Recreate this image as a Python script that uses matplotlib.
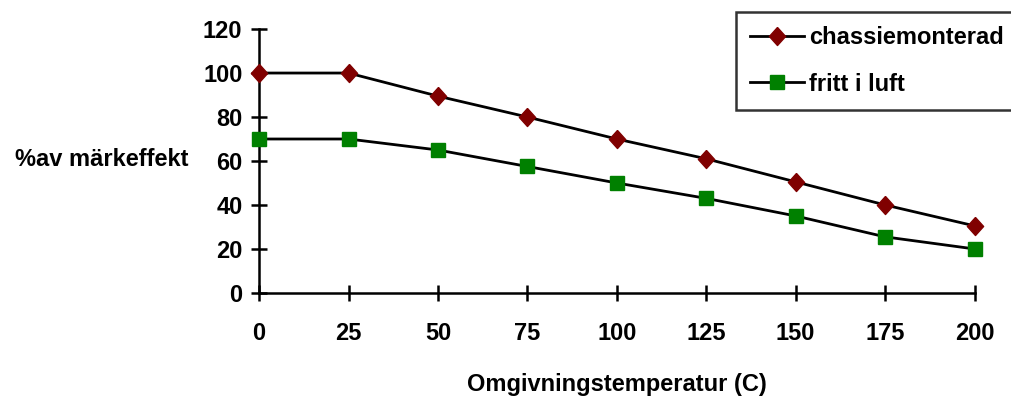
import matplotlib.pyplot as plt

plt.rcParams['font.family'] = ['Liberation Sans', 'DejaVu Sans']
plt.rcParams['font.weight'] = 'bold'

# === DATA ===
temps = [0, 25, 50, 75, 100, 125, 150, 175, 200]
chassie = [100, 100, 89.5, 80, 70, 61, 50.5, 40, 30.5]
fritt = [70, 70, 65, 57.5, 50, 43, 35, 25.5, 20]
yticks = [0, 20, 40, 60, 80, 100, 120]

# slightly tall diamond marker
diamond = [(0, 1), (0.9, 0), (0, -1), (-0.9, 0), (0, 1)]

# === PLOT ===
fig = plt.figure(figsize=(10.12, 3.98), dpi=100)
ax = fig.add_axes([0.256, 0.264, 0.707, 0.663])

ax.plot(temps, chassie, color='black', lw=2, marker=diamond, ms=13,
        mfc='#800000', mec='#800000', clip_on=False, label='chassiemonterad', zorder=3)
ax.plot(temps, fritt, color='black', lw=2, marker='s', ms=10.5,
        mfc='#008000', mec='#008000', clip_on=False, label='fritt i luft', zorder=3)

ax.set_xlim(0, 200)
ax.set_ylim(0, 120)
ax.set_xticks(temps)
ax.set_yticks(yticks)

for s in ['top', 'right']:
    ax.spines[s].set_visible(False)
for s in ['left', 'bottom']:
    ax.spines[s].set_linewidth(1.8)

ax.tick_params(axis='x', direction='inout', length=12, width=1.8, pad=15, labelsize=17)
ax.tick_params(axis='y', direction='inout', length=12, width=1.8, pad=6, labelsize=17)

fig.text(0.015, 0.60, '%av märkeffekt', fontsize=17, fontweight='bold', va='center', ha='left')
fig.text(0.61, 0.035, 'Omgivningstemperatur (C)', fontsize=17, fontweight='bold', va='center', ha='center')

leg = ax.legend(loc='upper left', bbox_to_anchor=(0.727, 0.97), bbox_transform=fig.transFigure,
                prop={'size': 17, 'weight': 'bold'}, frameon=True, fancybox=False,
                edgecolor='black', handlelength=2.3, handletextpad=0.2, borderpad=0.6,
                labelspacing=1.0, borderaxespad=0)
leg.get_frame().set_linewidth(1.8)

fig.savefig('out.png', dpi=100)
